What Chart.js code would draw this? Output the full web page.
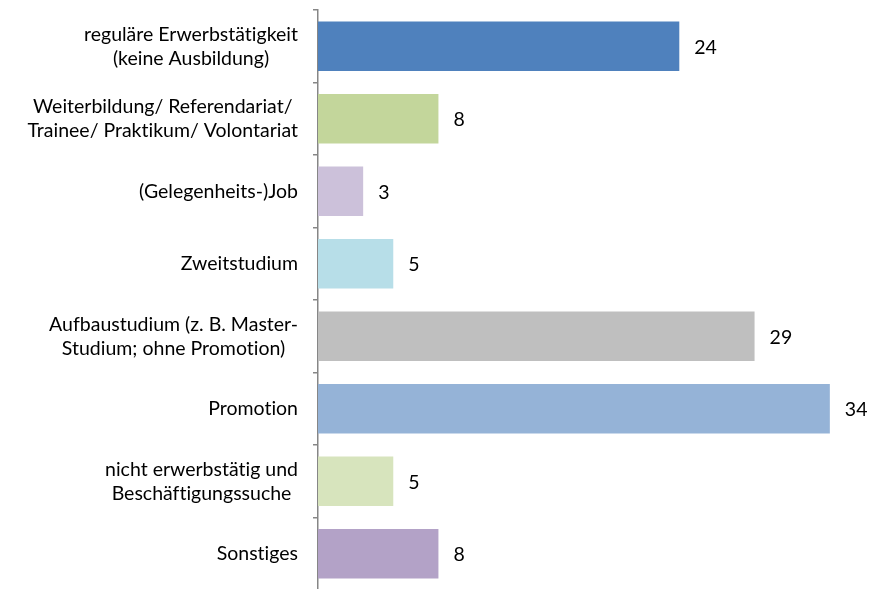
<!DOCTYPE html>
<html>
<head>
<meta charset="utf-8">
<script src="https://cdn.jsdelivr.net/npm/chart.js@4"></script>
<style>
  html, body { margin: 0; padding: 0; background: #fff; overflow: hidden; }
  #wrap { width: 881px; height: 592px; position: relative; }
</style>
</head>
<body>
<div id="wrap"><canvas id="chart"></canvas></div>
<script>
const categories = [
  ["reguläre Erwerbstätigkeit", "(keine Ausbildung)"],
  ["Weiterbildung/ Referendariat/", "Trainee/ Praktikum/ Volontariat"],
  ["(Gelegenheits-)Job"],
  ["Zweitstudium"],
  ["Aufbaustudium (z. B. Master-", "Studium; ohne Promotion)"],
  ["Promotion"],
  ["nicht erwerbstätig und", "Beschäftigungssuche"],
  ["Sonstiges"]
];
const values = [24, 8, 3, 5, 29, 34, 5, 8];
const barColors = [
  "#4F81BD", "#C3D69B", "#CCC1DA", "#B7DEE8",
  "#BFBFBF", "#95B3D7", "#D7E4BD", "#B3A2C7"
];

const FONT = "19.5px Lato, 'Open Sans', sans-serif";

function setText(ctx) {
  ctx.font = FONT;
  ctx.fillStyle = "#000";
  ctx.textBaseline = "middle";
  // no "ti" ligatures
  if ("textRendering" in ctx) ctx.textRendering = "optimizeSpeed";
}

// category labels: block right aligned, lines centered inside the block
const categoryLabels = {
  id: "categoryLabels",
  afterDraw(chart) {
    const ctx = chart.ctx;
    const scale = chart.scales.y;
    const right = chart.chartArea.left - 20;
    const lineH = 24;
    ctx.save();
    setText(ctx);
    ctx.textAlign = "center";
    categories.forEach((lines, i) => {
      const w = Math.max(...lines.map((l) => ctx.measureText(l).width));
      const cx = right - w / 2;
      const cy = scale.getPixelForTick(i);
      const y0 = cy - ((lines.length - 1) * lineH) / 2;
      lines.forEach((l, j) => ctx.fillText(l, cx, y0 + j * lineH));
    });
    ctx.restore();
  }
};

// value labels next to bar ends
const valueLabels = {
  id: "valueLabels",
  afterDatasetsDraw(chart) {
    const ctx = chart.ctx;
    const meta = chart.getDatasetMeta(0);
    ctx.save();
    setText(ctx);
    ctx.textAlign = "left";
    meta.data.forEach((bar, i) => {
      ctx.fillText(String(values[i]), bar.x + 15, bar.y + 1);
    });
    ctx.restore();
  }
};

new Chart(document.getElementById("chart"), {
  type: "bar",
  data: {
    labels: categories.map((c) => c.join(" ")),
    datasets: [
      {
        data: values,
        backgroundColor: barColors,
        borderWidth: 0,
        barPercentage: 0.68,
        categoryPercentage: 1
      }
    ]
  },
  options: {
    indexAxis: "y",
    responsive: true,
    maintainAspectRatio: false,
    animation: false,
    layout: { padding: { top: 10, bottom: 2, right: 6, left: 0 } },
    plugins: {
      legend: { display: false },
      tooltip: { enabled: false }
    },
    scales: {
      x: {
        display: false,
        min: 0,
        max: 37
      },
      y: {
        offset: true,
        afterFit(scale) { scale.width = 318; },
        ticks: { display: false },
        grid: {
          offset: true,
          drawOnChartArea: false,
          tickLength: 5,
          color: "#868686",
          lineWidth: 1.5
        },
        border: { color: "#868686", width: 1.5 }
      }
    }
  },
  plugins: [categoryLabels, valueLabels]
});
</script>
</body>
</html>
